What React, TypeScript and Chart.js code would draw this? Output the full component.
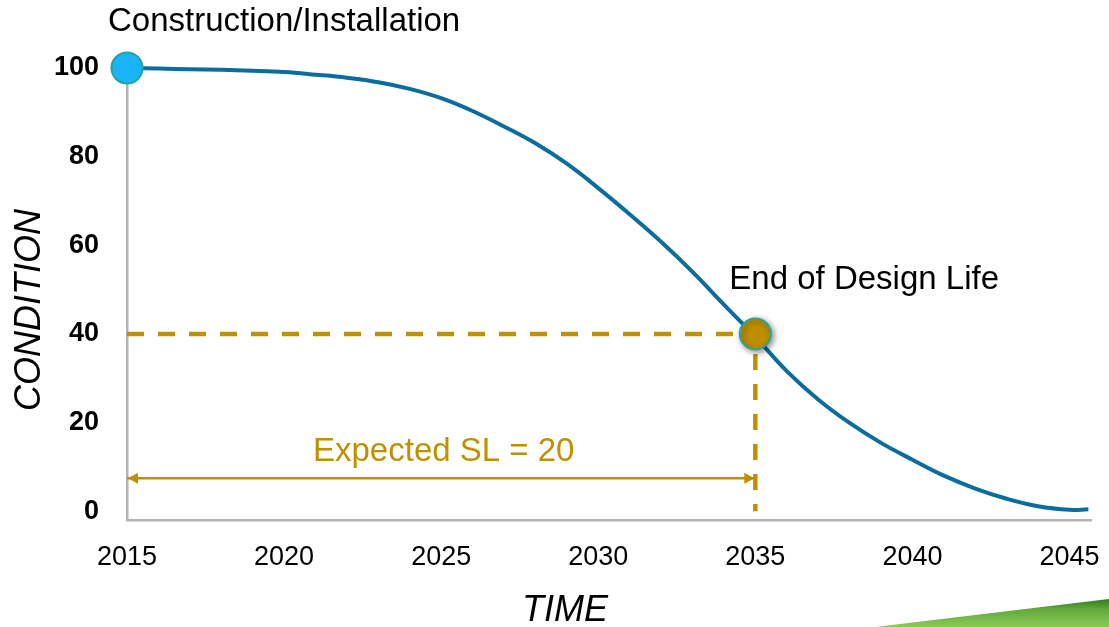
import React, { useEffect, useRef } from 'react';
import { Chart, registerables } from 'chart.js';

Chart.register(...registerables);

// ---- data ----
const years = [
  2015, 2016, 2017, 2018, 2019, 2020, 2021, 2022, 2023, 2024, 2025, 2026, 2027, 2028, 2029, 2030,
  2031, 2032, 2033, 2034, 2035, 2036, 2037, 2038, 2039, 2040, 2041, 2042, 2043, 2044, 2045, 2045.6,
];
const condition = [
  100, 99.9, 99.7, 99.6, 99.4, 99.1, 98.5, 97.8, 96.8, 95.3, 93.2, 90.3, 86.8, 83.0, 78.4, 72.9,
  67.0, 60.8, 54.0, 46.6, 39.3, 31.6, 25.2, 19.9, 15.4, 11.6, 8.0, 5.1, 2.8, 1.1, 0.3, 0.4,
];
const xTicks = [2015, 2020, 2025, 2030, 2035, 2040, 2045];
const yTicks = [0, 20, 40, 60, 80, 100];
const installYear = 2015;
const installCondition = 100;
const designLifeYear = 2035;
const designLifeCondition = 40;
const arrowLevel = 7.4;
const xTitle = 'TIME';
const yTitle = 'CONDITION';
const startLabel = 'Construction/Installation';
const endLabel = 'End of Design Life';
const slLabel = 'Expected SL = 20';

const FONT = '"Liberation Sans", Arial, Helvetica, sans-serif';
const GOLD = '#BF9000';
const CURVE = '#0B6D9E';

const annotationPlugin = {
  id: 'annotations',
  beforeDatasetDraw(chart: any, args: any) {
    if (args.index === 5) {
      const ctx = chart.ctx;
      ctx.save();
      ctx.shadowColor = 'rgba(0,0,0,0.45)';
      ctx.shadowBlur = 6;
      ctx.shadowOffsetX = 2;
      ctx.shadowOffsetY = 2;
    }
  },
  afterDatasetDraw(chart: any, args: any) {
    const ctx = chart.ctx;
    if (args.index === 5) {
      ctx.restore();
    }
    if (args.index === 3) {
      // arrow heads at both ends of the service-life arrow
      const pts = args.meta.data;
      const a = pts[0];
      const b = pts[pts.length - 1];
      ctx.save();
      ctx.fillStyle = GOLD;
      const L = 10;
      const H = 5.5;
      ctx.beginPath();
      ctx.moveTo(a.x + 1, a.y);
      ctx.lineTo(a.x + 1 + L, a.y - H);
      ctx.lineTo(a.x + 1 + L, a.y + H);
      ctx.closePath();
      ctx.fill();
      ctx.beginPath();
      ctx.moveTo(b.x - 1, b.y);
      ctx.lineTo(b.x - 1 - L, b.y - H);
      ctx.lineTo(b.x - 1 - L, b.y + H);
      ctx.closePath();
      ctx.fill();
      ctx.restore();
    }
  },
  afterDraw(chart: any) {
    const { ctx, scales } = chart;
    const x = scales.x;
    const W = chart.width;
    const Hh = chart.height;
    ctx.save();
    ctx.textBaseline = 'middle';
    ctx.textAlign = 'left';
    ctx.fillStyle = '#000';
    ctx.font = `33px ${FONT}`;
    ctx.fillText(startLabel, x.getPixelForValue(installYear) - 19, 22);
    ctx.font = `33px ${FONT}`;
    ctx.fillText(endLabel, x.getPixelForValue(designLifeYear) - 26, 280);
    ctx.fillStyle = GOLD;
    ctx.font = `33px ${FONT}`;
    ctx.fillText(slLabel, 313, 452);

    ctx.fillStyle = '#000';
    ctx.font = `italic 36px ${FONT}`;
    ctx.textAlign = 'center';
    ctx.fillText(xTitle, 565, 611);
    ctx.save();
    ctx.translate(30, 310);
    ctx.rotate(-Math.PI / 2);
    ctx.fillText(yTitle, 0, 0);
    ctx.restore();

    // decorative green swoosh at bottom right
    const g = ctx.createLinearGradient(0, Hh - 28, 0, Hh);
    g.addColorStop(0, '#2F7A1E');
    g.addColorStop(0.35, '#5FA83A');
    g.addColorStop(1, '#8CCB55');
    ctx.fillStyle = g;
    ctx.beginPath();
    ctx.moveTo(875, Hh);
    ctx.quadraticCurveTo(1000, Hh - 15, W, Hh - 28);
    ctx.lineTo(W, Hh);
    ctx.closePath();
    ctx.fill();
    ctx.restore();
  },
};

export default function App() {
  const ref = useRef<HTMLCanvasElement | null>(null);

  useEffect(() => {
    if (!ref.current) return;
    const curveData = years.map((yr, i) => ({ x: yr, y: condition[i] }));
    const chart = new Chart(ref.current, {
      type: 'line',
      data: {
        datasets: [
          {
            label: 'Condition',
            data: curveData,
            borderColor: CURVE,
            borderWidth: 4,
            pointRadius: 0,
            tension: 0.4,
            clip: false,
            order: 3,
          },
          {
            label: 'Horizontal guide',
            data: [
              { x: installYear, y: designLifeCondition },
              { x: designLifeYear, y: designLifeCondition },
            ],
            borderColor: GOLD,
            borderWidth: 4.5,
            borderDash: [17, 14],
            pointRadius: 0,
            clip: false,
            order: 4,
          },
          {
            label: 'Vertical guide',
            data: [
              { x: designLifeYear, y: designLifeCondition },
              { x: designLifeYear, y: 0 },
            ],
            borderColor: GOLD,
            borderWidth: 4.5,
            borderDash: [16, 14],
            borderDashOffset: 10,
            pointRadius: 0,
            clip: false,
            order: 4,
          },
          {
            label: 'Service life arrow',
            data: [
              { x: installYear, y: arrowLevel },
              { x: designLifeYear, y: arrowLevel },
            ],
            borderColor: GOLD,
            borderWidth: 2.5,
            pointRadius: 0,
            clip: false,
            order: 4,
          },
          {
            label: 'Installation',
            data: [{ x: installYear, y: installCondition }],
            showLine: false,
            pointRadius: 15.5,
            pointBackgroundColor: '#19B4F8',
            pointBorderColor: '#22A69C',
            pointBorderWidth: 2,
            clip: false,
            order: 1,
          },
          {
            label: 'End of design life',
            data: [{ x: designLifeYear, y: designLifeCondition }],
            showLine: false,
            pointRadius: 15.5,
            pointBackgroundColor: '#BF8F00',
            pointBorderColor: '#22A69C',
            pointBorderWidth: 2,
            clip: false,
            order: 0,
          },
        ],
      },
      options: {
        responsive: false,
        animation: false,
        events: [],
        layout: { padding: { top: 68, right: 10, left: 0, bottom: 0 } },
        plugins: {
          legend: { display: false },
          tooltip: { enabled: false },
        },
        scales: {
          x: {
            type: 'linear',
            min: 2015,
            max: 2045.7,
            afterFit: (s: any) => {
              s.height = 107;
              s.paddingLeft = 0;
              s.paddingRight = 0;
            },
            afterBuildTicks: (s: any) => {
              s.ticks = xTicks.map((v) => ({ value: v }));
            },
            grid: { color: 'transparent', drawTicks: false },
            border: { display: true, color: '#B3B3B3', width: 2.5 },
            ticks: {
              padding: 21,
              color: '#000',
              font: { family: FONT, size: 27 },
              maxRotation: 0,
              callback: (v: any) => String(v),
            },
          },
          y: {
            type: 'linear',
            min: -2,
            max: 100,
            afterFit: (s: any) => {
              s.width = 127;
              s.paddingTop = 0;
              s.paddingBottom = 0;
            },
            afterBuildTicks: (s: any) => {
              s.ticks = yTicks.map((v) => ({ value: v }));
            },
            grid: { color: 'transparent', drawTicks: false },
            border: { display: true, color: '#B3B3B3', width: 2.5 },
            ticks: {
              padding: 28,
              color: '#000',
              font: { family: FONT, size: 27, weight: 'bold' },
              callback: (v: any) => String(v),
            },
          },
        },
      } as any,
      plugins: [annotationPlugin],
    });
    return () => chart.destroy();
  }, []);

  return (
    <div style={{ position: 'fixed', left: 0, top: 0, width: 1109, height: 627, background: '#fff' }}>
      <canvas ref={ref} width={1109} height={627} style={{ display: 'block', width: 1109, height: 627 }} />
    </div>
  );
}
